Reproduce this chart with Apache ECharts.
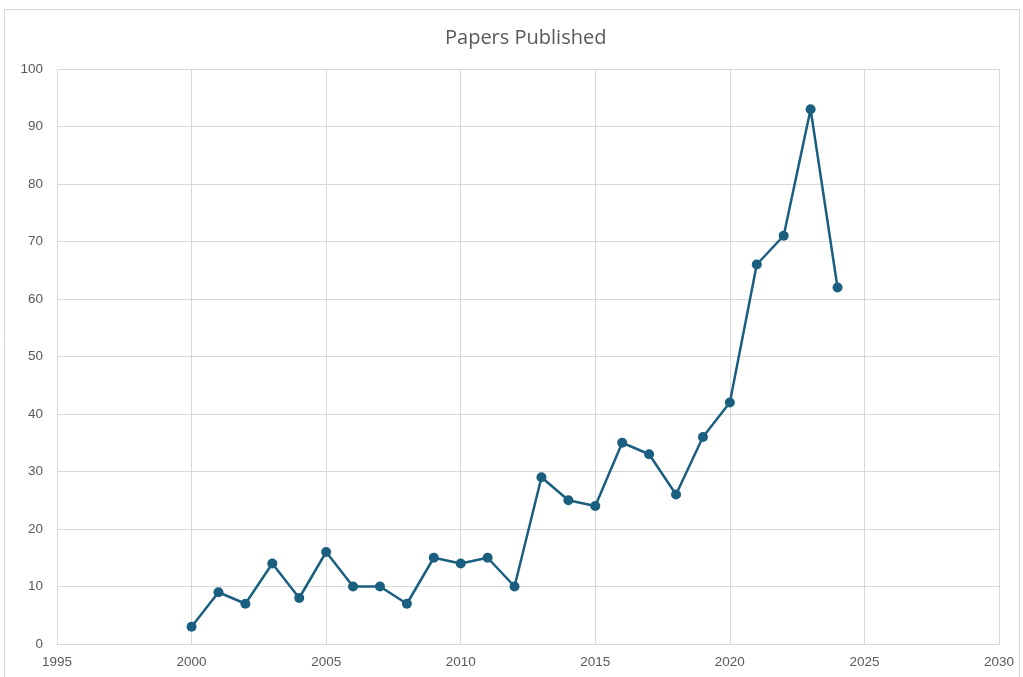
<!DOCTYPE html>
<html>
<head>
<meta charset="utf-8">
<script src="https://cdn.jsdelivr.net/npm/echarts@6/dist/echarts.min.js"></script>
<style>
  html, body { margin: 0; padding: 0; background: #fff; }
  #chart { width: 1023px; height: 677px; }
</style>
</head>
<body>
<div id="chart"></div>
<script>
// Publication counts per year
const years = [2000, 2001, 2002, 2003, 2004, 2005, 2006, 2007, 2008, 2009, 2010, 2011, 2012,
               2013, 2014, 2015, 2016, 2017, 2018, 2019, 2020, 2021, 2022, 2023, 2024];
const papers = [3, 9, 7, 14, 8, 16, 10, 10, 7, 15, 14, 15, 10,
                29, 25, 24, 35, 33, 26, 36, 42, 66, 71, 93, 62];

const points = years.map((y, i) => [y, papers[i]]);

const chart = echarts.init(document.getElementById('chart'));
const textColor = '#595959';
const gridColor = '#d9d9d9';

chart.setOption({
  backgroundColor: '#ffffff',
  animation: false,
  graphic: [{
    type: 'rect',
    shape: { x: 4.5, y: 9.5, width: 1015, height: 700 },
    style: { fill: 'none', stroke: '#d9d9d9', lineWidth: 1 },
    silent: true
  }],
  title: {
    text: 'Papers Published',
    left: 440,
    top: 23,
    textStyle: { color: textColor, fontSize: 20, fontWeight: 'normal', fontFamily: 'Open Sans' }
  },
  grid: { left: 57, right: 24, top: 69, bottom: 33 },
  xAxis: {
    type: 'value',
    min: 1995, max: 2030, interval: 5,
    axisLine: { show: true, lineStyle: { color: gridColor, width: 1 } },
    axisTick: { show: false },
    axisLabel: {
      color: textColor, fontSize: 13.5, margin: 11, fontFamily: 'Liberation Sans',
      formatter: v => String(v)
    },
    splitLine: { show: true, lineStyle: { color: gridColor, width: 1 } }
  },
  yAxis: {
    type: 'value',
    min: 0, max: 100, interval: 10,
    axisLine: { show: false },
    axisTick: { show: false },
    axisLabel: { color: textColor, fontSize: 13.5, margin: 14, fontFamily: 'Liberation Sans' },
    splitLine: { show: true, lineStyle: { color: gridColor, width: 1 } }
  },
  series: [{
    type: 'line',
    data: points,
    symbol: 'circle',
    symbolSize: 10,
    lineStyle: { color: '#1b5f80', width: 2.5 },
    itemStyle: { color: '#1b5f80' }
  }]
});
</script>
</body>
</html>
